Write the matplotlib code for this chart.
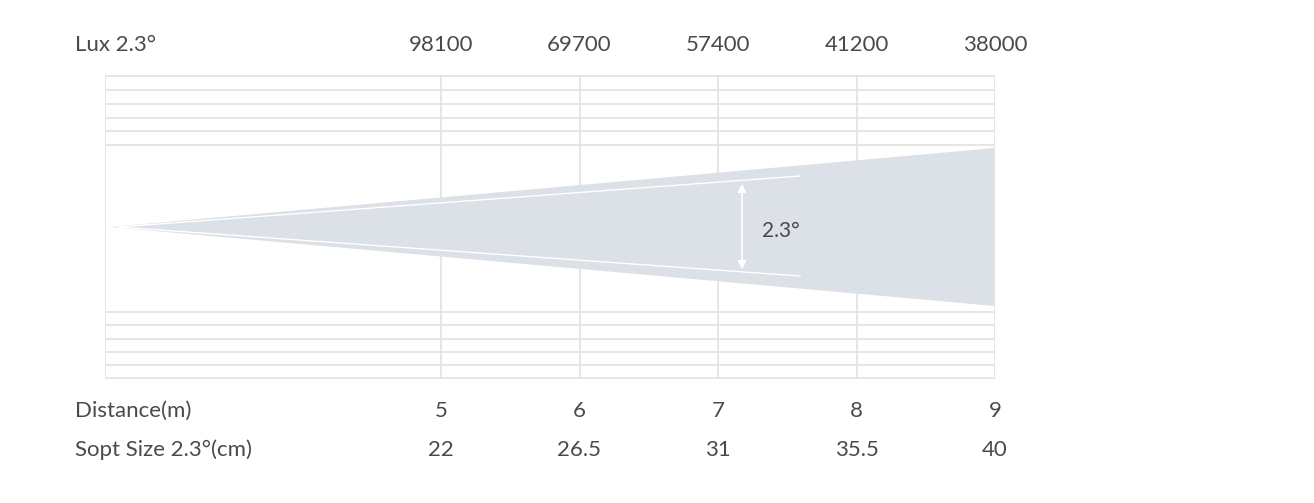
import matplotlib.pyplot as plt
from matplotlib.patches import Polygon

distance = [5, 6, 7, 8, 9]
lux = ["98100", "69700", "57400", "41200", "38000"]
spot = ["22", "26.5", "31", "35.5", "40"]
beam_label = "2.3°"

W, H = 1314, 503
fig = plt.figure(figsize=(W / 100, H / 100), dpi=100)
# axes in pixel space for y, meters for x
px_per_m = (995 - 441) / 4.0
x0 = 5 - (441 - 105) / px_per_m
ax = fig.add_axes([105 / W, 0, (995 - 105) / W, 1])
ax.set_xlim(x0, 9)
ax.set_ylim(H, 0)
ax.axis("off")

def m(px):
    return 5 + (px - 441) / px_per_m

line_c = "#e2e2e2"
txt_c = "#4a4a4a"

for y in [76, 90, 104, 118, 131, 145, 312, 325, 339, 352, 365, 378]:
    ax.plot([x0, 9], [y, y], color=line_c, lw=1.2, zorder=1)
for x in [x0] + distance:
    ax.plot([x, x], [76, 378], color=line_c, lw=1.2, zorder=1)

cone = Polygon([[m(110), 227], [9, 148], [9, 306]], closed=True,
               facecolor="#dbe1e6", edgecolor="none", zorder=2)
ax.add_patch(cone)
ax.plot([m(118), m(800)], [227, 176], color="white", lw=1, zorder=3)
ax.plot([m(118), m(800)], [227, 276], color="white", lw=1, zorder=3)
ax.annotate("", xy=(m(742), 181), xytext=(m(742), 272),
            arrowprops=dict(arrowstyle="<|-|>", color="white", lw=1.2,
                            mutation_scale=12), zorder=4)
ax.text(m(762), 231, beam_label, fontsize=15, color=txt_c, va="center",
        ha="left", family="Lato", zorder=5)

fs = 16
ax.text(m(75), 45, "Lux 2.3°", fontsize=fs, color=txt_c, va="center", family="Lato")
ax.text(m(75), 411, "Distance(m)", fontsize=fs, color=txt_c, va="center", family="Lato")
ax.text(m(75), 450, "Sopt Size 2.3°(cm)", fontsize=fs, color=txt_c, va="center", family="Lato")
for d, l, s in zip(distance, lux, spot):
    ax.text(d, 45, l, fontsize=fs, color=txt_c, ha="center", va="center", family="Lato")
    ax.text(d, 411, str(d), fontsize=fs, color=txt_c, ha="center", va="center", family="Lato")
    ax.text(d, 450, s, fontsize=fs, color=txt_c, ha="center", va="center", family="Lato")

fig.savefig("out.png", dpi=100, facecolor="white")
